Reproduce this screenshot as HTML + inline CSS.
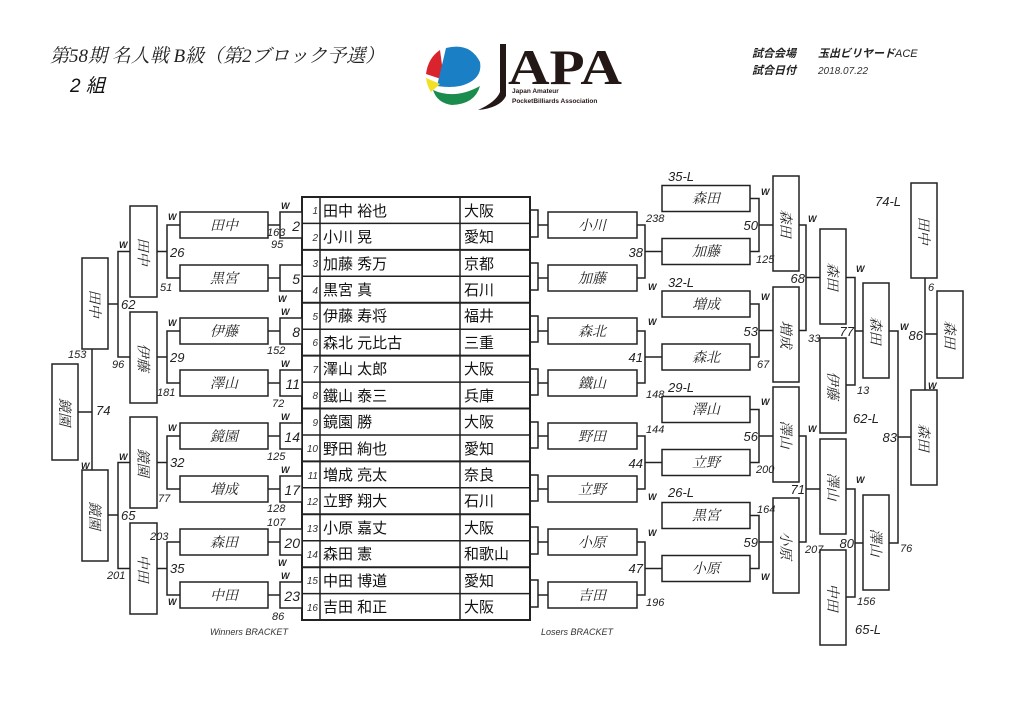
<!DOCTYPE html>
<html><head><meta charset="utf-8">
<style>
html,body{margin:0;padding:0;background:#fff;}
svg{display:block;}
.b{fill:#fff;stroke:#222;stroke-width:1.5;}
.l{stroke:#222;stroke-width:1.5;fill:none;}
.n{font:italic 14px "Liberation Serif","Noto Serif CJK JP",serif;fill:#222;}
.s{font:italic 11px "Liberation Sans",sans-serif;fill:#222;}
.m{font:italic 14px "Liberation Sans",sans-serif;fill:#222;}
.w{font:bold italic 9px "Liberation Sans",sans-serif;fill:#222;}
.d{font:italic 13px "Liberation Sans",sans-serif;fill:#222;}
.t{font:15px "Liberation Sans","Noto Sans CJK JP",sans-serif;fill:#111;}
.tn{font:italic 10px "Liberation Sans",sans-serif;fill:#333;}
</style></head><body>
<svg width="1024" height="724" viewBox="0 0 1024 724" xmlns="http://www.w3.org/2000/svg">
<!-- header -->
<text x="50" y="62" style="font:italic 19px 'Liberation Serif','Noto Serif CJK JP',serif;fill:#222">第58期 名人戦 B級（第2ブロック予選）</text>
<text x="70" y="92" style="font:italic 19px 'Liberation Sans','Noto Sans CJK JP',sans-serif;fill:#111">2 組</text>
<text x="752" y="57" style="font:italic bold 11px 'Liberation Sans','Noto Sans CJK JP',sans-serif;fill:#222">試合会場</text>
<text x="818" y="57" style="font:italic bold 11px 'Liberation Sans','Noto Sans CJK JP',sans-serif;fill:#222">玉出ビリヤード<tspan style="font-weight:normal">ACE</tspan></text>
<text x="752" y="74" style="font:italic bold 11px 'Liberation Sans','Noto Sans CJK JP',sans-serif;fill:#222">試合日付</text>
<text x="818" y="74" style="font:italic 10px 'Liberation Sans',sans-serif;fill:#333">2018.07.22</text>
<!-- logo -->
<g>
<path d="M440,50 Q428,58 426,74 L444,80 Z" fill="#d9232d"/>
<path d="M446,48 Q470,42 480,62 Q483,80 460,86 Q450,88 437,86 Z" fill="#1b7fc6"/>
<path d="M426,78 L440,84 L431,92 Q427,86 426,78 Z" fill="#f2e024"/>
<path d="M433,90 Q455,100 480,86 Q475,104 452,105 Q437,103 433,90 Z" fill="#1a8c4e"/>
<path d="M500,44 L506,44 L506,96 Q500,108 478,110 Q496,102 500,92 Z" fill="#231815"/>
<text x="508" y="84" textLength="114" lengthAdjust="spacingAndGlyphs" style="font:bold 50px 'Liberation Serif',serif;fill:#231815">APA</text>
<text x="512" y="93" style="font:bold 6.5px 'Liberation Sans',sans-serif;fill:#231815">Japan Amateur</text>
<text x="512" y="103" style="font:bold 6.5px 'Liberation Sans',sans-serif;fill:#231815">PocketBilliards Association</text>
</g>

<!-- center table -->
<rect x="302" y="197" width="228" height="423" fill="#fff" stroke="#222" stroke-width="2"/>
<g class="l">
<line x1="302" y1="223.4" x2="530" y2="223.4"/><line x1="302" y1="249.9" x2="530" y2="249.9" stroke-width="2"/>
<line x1="302" y1="276.3" x2="530" y2="276.3"/><line x1="302" y1="302.8" x2="530" y2="302.8" stroke-width="2"/>
<line x1="302" y1="329.2" x2="530" y2="329.2"/><line x1="302" y1="355.6" x2="530" y2="355.6" stroke-width="2"/>
<line x1="302" y1="382.1" x2="530" y2="382.1"/><line x1="302" y1="408.5" x2="530" y2="408.5" stroke-width="2"/>
<line x1="302" y1="435" x2="530" y2="435"/><line x1="302" y1="461.4" x2="530" y2="461.4" stroke-width="2"/>
<line x1="302" y1="487.8" x2="530" y2="487.8"/><line x1="302" y1="514.3" x2="530" y2="514.3" stroke-width="2"/>
<line x1="302" y1="540.7" x2="530" y2="540.7"/><line x1="302" y1="567.2" x2="530" y2="567.2" stroke-width="2"/>
<line x1="302" y1="593.6" x2="530" y2="593.6"/>
<line x1="320" y1="197" x2="320" y2="620"/><line x1="460" y1="197" x2="460" y2="620"/>
</g>
<g class="tn" text-anchor="end">
<text x="318" y="214">1</text><text x="318" y="241">2</text><text x="318" y="267">3</text><text x="318" y="294">4</text>
<text x="318" y="320">5</text><text x="318" y="346">6</text><text x="318" y="373">7</text><text x="318" y="399">8</text>
<text x="318" y="426">9</text><text x="318" y="452">10</text><text x="318" y="479">11</text><text x="318" y="505">12</text>
<text x="318" y="532">13</text><text x="318" y="558">14</text><text x="318" y="584">15</text><text x="318" y="611">16</text>
</g>
<g class="t">
<text x="323" y="216">田中 裕也</text><text x="323" y="242">小川 晃</text><text x="323" y="269">加藤 秀万</text><text x="323" y="295">黒宮 真</text>
<text x="323" y="321">伊藤 寿将</text><text x="323" y="348">森北 元比古</text><text x="323" y="374">澤山 太郎</text><text x="323" y="401">鐵山 泰三</text>
<text x="323" y="427">鏡園 勝</text><text x="323" y="454">野田 絢也</text><text x="323" y="480">増成 亮太</text><text x="323" y="506">立野 翔大</text>
<text x="323" y="533">小原 嘉丈</text><text x="323" y="559">森田 憲</text><text x="323" y="586">中田 博道</text><text x="323" y="612">吉田 和正</text>
<text x="464" y="216">大阪</text><text x="464" y="242">愛知</text><text x="464" y="269">京都</text><text x="464" y="295">石川</text>
<text x="464" y="321">福井</text><text x="464" y="348">三重</text><text x="464" y="374">大阪</text><text x="464" y="401">兵庫</text>
<text x="464" y="427">大阪</text><text x="464" y="454">愛知</text><text x="464" y="480">奈良</text><text x="464" y="506">石川</text>
<text x="464" y="533">大阪</text><text x="464" y="559">和歌山</text><text x="464" y="586">愛知</text><text x="464" y="612">大阪</text>
</g>

<!-- WINNERS -->
<g class="l">
<line x1="268" y1="225" x2="280" y2="225"/><line x1="268" y1="278" x2="280" y2="278"/>
<line x1="268" y1="331" x2="280" y2="331"/><line x1="268" y1="383" x2="280" y2="383"/>
<line x1="268" y1="436" x2="280" y2="436"/><line x1="268" y1="489" x2="280" y2="489"/>
<line x1="268" y1="542" x2="280" y2="542"/><line x1="268" y1="595" x2="280" y2="595"/>
<path d="M180,225 H167 V278 H180 M167,251.5 H157"/>
<path d="M180,331 H167 V383 H180 M167,357 H157"/>
<path d="M180,436 H167 V489 H180 M167,462.5 H157"/>
<path d="M180,542 H167 V595 H180 M167,568.5 H157"/>
<path d="M130,251.5 H118 V357 H130 M118,304 H108"/>
<path d="M130,462.5 H118 V568.5 H130 M118,515 H108"/>
<path d="M92,349 V470 M78,412 H92"/>
</g>
<g>
<rect class="b" x="280" y="212" width="22" height="26"/><rect class="b" x="280" y="265" width="22" height="26"/>
<rect class="b" x="280" y="318" width="22" height="26"/><rect class="b" x="280" y="370" width="22" height="26"/>
<rect class="b" x="280" y="423" width="22" height="26"/><rect class="b" x="280" y="476" width="22" height="26"/>
<rect class="b" x="280" y="529" width="22" height="26"/><rect class="b" x="280" y="582" width="22" height="26"/>
<rect class="b" x="180" y="212" width="88" height="26"/><rect class="b" x="180" y="265" width="88" height="26"/>
<rect class="b" x="180" y="318" width="88" height="26"/><rect class="b" x="180" y="370" width="88" height="26"/>
<rect class="b" x="180" y="423" width="88" height="26"/><rect class="b" x="180" y="476" width="88" height="26"/>
<rect class="b" x="180" y="529" width="88" height="26"/><rect class="b" x="180" y="582" width="88" height="26"/>
<rect class="b" x="130" y="206" width="27" height="91"/><rect class="b" x="130" y="312" width="27" height="91"/>
<rect class="b" x="130" y="417" width="27" height="91"/><rect class="b" x="130" y="523" width="27" height="91"/>
<rect class="b" x="82" y="258" width="26" height="91"/><rect class="b" x="82" y="470" width="26" height="91"/>
<rect class="b" x="52" y="364" width="26" height="96"/>
</g>
<g class="m" text-anchor="end">
<text x="300" y="231">2</text><text x="300" y="284">5</text><text x="300" y="337">8</text><text x="300" y="389">11</text>
<text x="300" y="442">14</text><text x="300" y="495">17</text><text x="300" y="548">20</text><text x="300" y="601">23</text>
</g>
<g class="n" text-anchor="middle">
<text x="224" y="230">田中</text><text x="224" y="283">黒宮</text><text x="224" y="336">伊藤</text><text x="224" y="388">澤山</text>
<text x="224" y="441">鏡園</text><text x="224" y="494">増成</text><text x="224" y="547">森田</text><text x="224" y="600">中田</text>
<text transform="translate(143.5,251.5) rotate(90)" y="5">田中</text>
<text transform="translate(143.5,357.5) rotate(90)" y="5">伊藤</text>
<text transform="translate(143.5,462.5) rotate(90)" y="5">鏡園</text>
<text transform="translate(143.5,568.5) rotate(90)" y="5">中田</text>
<text transform="translate(95,303.5) rotate(90)" y="5">田中</text>
<text transform="translate(95,515.5) rotate(90)" y="5">鏡園</text>
<text transform="translate(65,412) rotate(90)" y="5">鏡園</text>
</g>
<g class="w">
<text x="281" y="209">W</text><text x="278" y="302">W</text><text x="281" y="315">W</text><text x="281" y="367">W</text>
<text x="281" y="420">W</text><text x="281" y="473">W</text><text x="278" y="566">W</text><text x="281" y="579">W</text>
<text x="168" y="220">W</text><text x="168" y="326">W</text><text x="168" y="431">W</text><text x="168" y="605">W</text>
<text x="119" y="248">W</text><text x="119" y="460">W</text><text x="81" y="469">W</text>
</g>
<g class="s">
<text x="271" y="248">95</text><text x="267" y="236">163</text><text x="267" y="354">152</text><text x="272" y="407">72</text>
<text x="267" y="460">125</text><text x="267" y="512">128</text><text x="267" y="526">107</text><text x="272" y="620">86</text>
<text x="170" y="257" class="d">26</text><text x="160" y="291">51</text>
<text x="170" y="362" class="d">29</text><text x="157" y="396">181</text>
<text x="170" y="467" class="d">32</text><text x="158" y="502">77</text>
<text x="150" y="540">203</text><text x="170" y="573" class="d">35</text>
<text x="121" y="309" class="d">62</text><text x="112" y="368">96</text>
<text x="121" y="520" class="d">65</text><text x="107" y="579">201</text>
<text x="68" y="358">153</text><text x="96" y="415" class="d">74</text>
</g>
<text x="210" y="635" style="font:italic 9px 'Liberation Sans',sans-serif;fill:#333">Winners BRACKET</text>
<text x="541" y="635" style="font:italic 9px 'Liberation Sans',sans-serif;fill:#333">Losers BRACKET</text>

<!-- LOSERS -->
<g class="l">
<path d="M530,210 H538 V237 H530 M538,225 H548"/>
<path d="M530,263 H538 V290 H530 M538,278 H548"/>
<path d="M530,316 H538 V342 H530 M538,331 H548"/>
<path d="M530,369 H538 V395 H530 M538,383 H548"/>
<path d="M530,422 H538 V448 H530 M538,436 H548"/>
<path d="M530,475 H538 V501 H530 M538,489 H548"/>
<path d="M530,527 H538 V554 H530 M538,542 H548"/>
<path d="M530,580 H538 V607 H530 M538,595 H548"/>
<path d="M637,225 H645 V278 H637 M645,251.5 H662"/>
<path d="M637,331 H645 V383 H637 M645,357 H662"/>
<path d="M637,436 H645 V489 H637 M645,462.5 H662"/>
<path d="M637,542 H645 V595 H637 M645,568.5 H662"/>
<path d="M750,198.5 H759 V251.5 H750 M759,225 H773"/>
<path d="M750,304 H759 V357 H750 M759,330.5 H773"/>
<path d="M750,409.5 H759 V462.5 H750 M759,436 H773"/>
<path d="M750,515.5 H759 V568.5 H750 M759,542 H773"/>
<path d="M799,225 H806 V330.5 H799 M806,277.5 H820"/>
<path d="M799,436 H806 V542 H799 M806,489 H820"/>
<path d="M846,277.5 H855 V385 H846 M855,331 H863"/>
<path d="M846,489 H855 V597 H846 M855,543 H863"/>
<path d="M889,331 H898 V543 H889 M898,437 H911"/>
<path d="M925,278 V390 M925,334 H937"/>
</g>
<g>
<rect class="b" x="548" y="212" width="89" height="26"/><rect class="b" x="548" y="265" width="89" height="26"/>
<rect class="b" x="548" y="318" width="89" height="26"/><rect class="b" x="548" y="370" width="89" height="26"/>
<rect class="b" x="548" y="423" width="89" height="26"/><rect class="b" x="548" y="476" width="89" height="26"/>
<rect class="b" x="548" y="529" width="89" height="26"/><rect class="b" x="548" y="582" width="89" height="26"/>
<rect class="b" x="662" y="185.5" width="88" height="26"/><rect class="b" x="662" y="238.5" width="88" height="26"/>
<rect class="b" x="662" y="291" width="88" height="26"/><rect class="b" x="662" y="344" width="88" height="26"/>
<rect class="b" x="662" y="396.5" width="88" height="26"/><rect class="b" x="662" y="449.5" width="88" height="26"/>
<rect class="b" x="662" y="502.5" width="88" height="26"/><rect class="b" x="662" y="555.5" width="88" height="26"/>
<rect class="b" x="773" y="176" width="26" height="95"/><rect class="b" x="773" y="287" width="26" height="95"/>
<rect class="b" x="773" y="387" width="26" height="95"/><rect class="b" x="773" y="498" width="26" height="95"/>
<rect class="b" x="820" y="229" width="26" height="95"/><rect class="b" x="820" y="338" width="26" height="95"/>
<rect class="b" x="820" y="439" width="26" height="95"/><rect class="b" x="820" y="550" width="26" height="95"/>
<rect class="b" x="863" y="283" width="26" height="95"/><rect class="b" x="863" y="495" width="26" height="95"/>
<rect class="b" x="911" y="390" width="26" height="95"/><rect class="b" x="911" y="183" width="26" height="95"/>
<rect class="b" x="937" y="291" width="26" height="87"/>
</g>
<g class="n" text-anchor="middle">
<text x="592" y="230">小川</text><text x="592" y="283">加藤</text><text x="592" y="336">森北</text><text x="592" y="388">鐵山</text>
<text x="592" y="441">野田</text><text x="592" y="494">立野</text><text x="592" y="547">小原</text><text x="592" y="600">吉田</text>
<text x="706" y="203">森田</text><text x="706" y="256">加藤</text><text x="706" y="309">増成</text><text x="706" y="362">森北</text>
<text x="706" y="414">澤山</text><text x="706" y="467">立野</text><text x="706" y="520">黒宮</text><text x="706" y="573">小原</text>
<text transform="translate(786,223.5) rotate(90)" y="5">森田</text>
<text transform="translate(786,334.5) rotate(90)" y="5">増成</text>
<text transform="translate(786,434.5) rotate(90)" y="5">澤山</text>
<text transform="translate(786,545.5) rotate(90)" y="5">小原</text>
<text transform="translate(833,276.5) rotate(90)" y="5">森田</text>
<text transform="translate(833,385.5) rotate(90)" y="5">伊藤</text>
<text transform="translate(833,486.5) rotate(90)" y="5">澤山</text>
<text transform="translate(833,597.5) rotate(90)" y="5">中田</text>
<text transform="translate(876,330.5) rotate(90)" y="5">森田</text>
<text transform="translate(876,542.5) rotate(90)" y="5">澤山</text>
<text transform="translate(924,437.5) rotate(90)" y="5">森田</text>
<text transform="translate(924,230.5) rotate(90)" y="5">田中</text>
<text transform="translate(950,334.5) rotate(90)" y="5">森田</text>
</g>
<g class="w">
<text x="648" y="290">W</text><text x="648" y="325">W</text><text x="648" y="500">W</text><text x="648" y="536">W</text>
<text x="761" y="195">W</text><text x="761" y="300">W</text><text x="761" y="405">W</text><text x="761" y="580">W</text>
<text x="808" y="222">W</text><text x="808" y="432">W</text><text x="856" y="272">W</text><text x="856" y="483">W</text>
<text x="900" y="330">W</text><text x="928" y="389">W</text>
</g>
<g class="s">
<text x="646" y="222">238</text><text x="646" y="398">148</text><text x="646" y="433">144</text><text x="646" y="606">196</text>
<text x="756" y="263">125</text><text x="757" y="368">67</text><text x="756" y="473">200</text><text x="757" y="513">164</text>
<text x="808" y="342">33</text><text x="805" y="553">207</text><text x="857" y="394">13</text><text x="857" y="605">156</text>
<text x="900" y="552">76</text><text x="928" y="291">6</text>
</g>
<g class="d" text-anchor="end">
<text x="643" y="257">38</text><text x="643" y="362">41</text><text x="643" y="468">44</text><text x="643" y="573">47</text>
<text x="758" y="230">50</text><text x="758" y="336">53</text><text x="758" y="441">56</text><text x="758" y="547">59</text>
<text x="805" y="283">68</text><text x="805" y="494">71</text><text x="854" y="336">77</text><text x="854" y="548">80</text>
<text x="897" y="442">83</text><text x="923" y="340">86</text>
</g>
<g class="d">
<text x="668" y="181">35-L</text><text x="668" y="287">32-L</text><text x="668" y="392">29-L</text><text x="668" y="497">26-L</text>
<text x="853" y="423">62-L</text><text x="855" y="634">65-L</text><text x="875" y="206">74-L</text>
</g>
</svg>
</body></html>
